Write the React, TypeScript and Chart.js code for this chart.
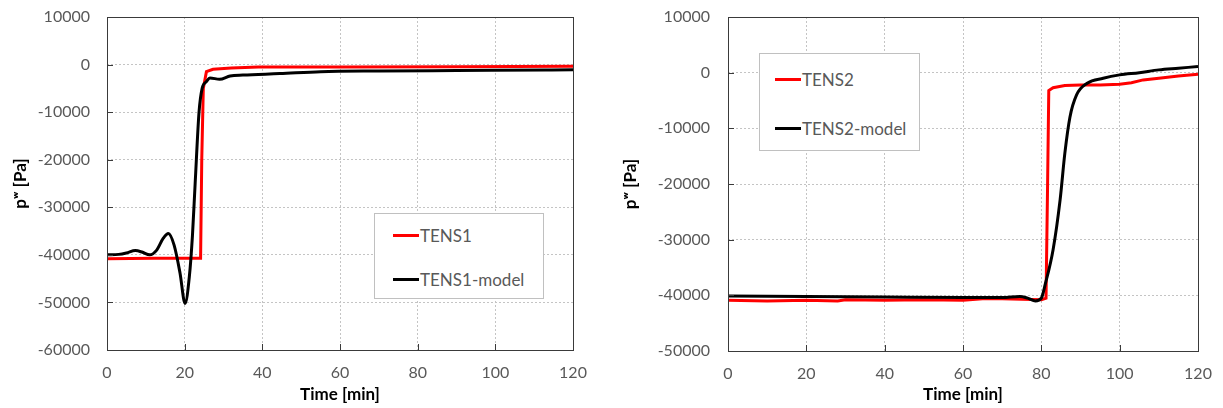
import React, { useEffect, useRef } from "react";
import { Chart, registerables } from "chart.js";

Chart.register(...registerables);

const FONT = "Lato, 'Open Sans', sans-serif";
const TICK_COLOR = "#595959";
const X_TITLE = "Time [min]";
const Y_TITLE = "p\u02B7 [Pa]";

// ---- Left panel (TENS1) ----
const tens1Time = [0, 6, 12, 18, 24.1, 24.4, 24.8, 25.6, 27.3, 32, 39, 60, 90, 120];
const tens1Values = [-40800, -40750, -40700, -40700, -40700, -20000, -5000, -1500, -1000, -700, -500, -500, -450, -350];
const tens1ModelTime = [0, 3, 5, 7.3, 9, 11, 12.8, 14.5, 15.8, 17.3, 18.8, 20.1, 21.2, 22, 22.7, 23.7, 24.5, 25.6, 26.5, 29, 31.7, 35, 44.5, 55, 70, 90, 113, 120];
const tens1ModelValues = [-40000, -39900, -39600, -39100, -39400, -40000, -39000, -36500, -35500, -38000, -43800, -50200, -44600, -36000, -25000, -10000, -5000, -3600, -2800, -3100, -2400, -2200, -1900, -1500, -1350, -1250, -1140, -1100];

// ---- Right panel (TENS2) ----
const tens2Time = [0, 10, 20, 28, 30, 40, 50, 60, 65, 70, 75, 80, 81.2, 81.6, 81.9, 83, 86, 90, 95, 100, 103, 106, 110, 115, 120];
const tens2Values = [-40900, -41000, -40900, -41000, -40800, -40900, -40800, -40900, -40600, -40600, -40700, -40800, -40500, -20000, -3200, -2700, -2300, -2200, -2200, -2100, -1800, -1300, -1000, -600, -300];
const tens2ModelTime = [0, 20, 40, 60, 70, 74.5, 76.5, 78.5, 80, 81, 83, 84.8, 86, 87.3, 89, 91.7, 95.8, 100, 105, 110, 115, 120];
const tens2ModelValues = [-40100, -40200, -40300, -40400, -40400, -40200, -40500, -41000, -40500, -38000, -31800, -22800, -14500, -8000, -4000, -1900, -1000, -400, 0, 500, 800, 1100];

const seriesColors = ["#ff0000", "#000000"];
const leftNames = ["TENS1", "TENS1-model"];
const rightNames = ["TENS2", "TENS2-model"];

const xMin = 0, xMax = 120, xStep = 20;
const leftYMin = -60000, leftYMax = 10000;
const rightYMin = -50000, rightYMax = 10000;
const yStep = 10000;

const toPoints = (t: number[], v: number[]) => t.map((x, i) => ({ x, y: v[i] }));

const framePlugin = {
  id: "frameAndInnerTicks",
  afterDatasetsDraw(chart: any) {
    const { ctx, chartArea: a, scales } = chart;
    ctx.save();
    ctx.strokeStyle = "#3a3a3a";
    ctx.lineWidth = 1;
    ctx.beginPath();
    scales.x.ticks.forEach((t: any) => {
      const px = Math.round(scales.x.getPixelForValue(t.value)) + 0.5;
      ctx.moveTo(px, a.bottom - 6);
      ctx.lineTo(px, a.bottom);
    });
    scales.y.ticks.forEach((t: any) => {
      const py = Math.round(scales.y.getPixelForValue(t.value)) + 0.5;
      ctx.moveTo(a.left, py);
      ctx.lineTo(a.left + 6, py);
    });
    ctx.stroke();
    ctx.strokeRect(Math.round(a.left) + 0.5, Math.round(a.top) + 0.5, Math.round(a.right - a.left), Math.round(a.bottom - a.top));
    ctx.restore();
  },
};

type PanelProps = {
  left: number;
  width: number;
  yMin: number;
  yMax: number;
  yAxisWidth: number;
  topPad: number;
  rightPad: number;
  xAxisHeight: number;
  yLabelPad: number;
  names: string[];
  measured: { x: number; y: number }[];
  model: { x: number; y: number }[];
  legend: { left: number; top: number; width: number; height: number; lineLeft: number; lineWidth: number; rows: number[] };
};

function Panel(p: PanelProps) {
  const ref = useRef<HTMLCanvasElement>(null);
  useEffect(() => {
    if (!ref.current) return;
    const chart = new Chart(ref.current, {
      type: "line",
      data: {
        datasets: [
          {
            label: p.names[0],
            data: p.measured,
            borderColor: seriesColors[0],
            backgroundColor: seriesColors[0],
            borderWidth: 3,
            pointRadius: 0,
            tension: 0,
            order: 2,
          },
          {
            label: p.names[1],
            data: p.model,
            borderColor: seriesColors[1],
            backgroundColor: seriesColors[1],
            borderWidth: 3,
            pointRadius: 0,
            cubicInterpolationMode: "monotone",
            order: 1,
          },
        ],
      },
      options: {
        responsive: false,
        animation: false,
        layout: { autoPadding: false, padding: { top: p.topPad, right: p.rightPad, left: 0, bottom: 0 } },
        plugins: { legend: { display: false }, tooltip: { enabled: false } },
        scales: {
          x: {
            type: "linear",
            min: xMin,
            max: xMax,
            afterFit: (s: any) => {
              s.height = p.xAxisHeight;
              s.paddingLeft = 0;
              s.paddingRight = 0;
              s.paddingTop = 0;
              s.paddingBottom = 0;
            },
            ticks: { stepSize: xStep, color: TICK_COLOR, font: { family: FONT, size: 16 }, padding: 13, maxRotation: 0, callback: (v: any) => String(v) },
            grid: { color: "#c4c4c4", drawTicks: false, lineWidth: 1 },
            border: { display: false, dash: [2, 2] },
            title: { display: true, text: X_TITLE, color: "#000", font: { family: FONT, size: 17, weight: "bold" }, padding: { top: 0, bottom: 3 } },
          },
          y: {
            type: "linear",
            min: p.yMin,
            max: p.yMax,
            afterFit: (s: any) => {
              s.width = p.yAxisWidth;
              s.paddingTop = 0;
              s.paddingBottom = 0;
              s.paddingLeft = 0;
              s.paddingRight = 0;
            },
            ticks: { stepSize: yStep, color: TICK_COLOR, font: { family: FONT, size: 16 }, padding: p.yLabelPad, callback: (v: any) => String(v) },
            grid: { color: "#c4c4c4", drawTicks: false, lineWidth: 1 },
            border: { display: false, dash: [2, 2] },
            title: { display: true, text: Y_TITLE, color: "#000", font: { family: FONT, size: 17, weight: "bold" }, padding: { top: 10, bottom: 0 } },
          },
        },
      },
      plugins: [framePlugin],
    });
    return () => chart.destroy();
  }, []);

  const lg = p.legend;
  return (
    <div style={{ position: "absolute", left: p.left, top: 0, width: p.width, height: 408 }}>
      <canvas ref={ref} width={p.width} height={408} style={{ display: "block" }} />
      <div
        style={{
          position: "absolute",
          left: lg.left,
          top: lg.top,
          width: lg.width,
          height: lg.height,
          border: "1px solid #c0c0c0",
          background: "#fff",
          boxSizing: "border-box",
        }}
      >
        {p.names.map((n, i) => (
          <div key={n} style={{ position: "absolute", left: lg.lineLeft, top: lg.rows[i] - 10, height: 20, display: "flex", alignItems: "center", whiteSpace: "nowrap" }}>
            <span style={{ display: "inline-block", width: lg.lineWidth, height: 3, background: seriesColors[i], marginRight: 1 }} />
            <span style={{ fontFamily: FONT, fontSize: 17, color: TICK_COLOR }}>{n}</span>
          </div>
        ))}
      </div>
    </div>
  );
}

export default function App() {
  return (
    <div style={{ position: "absolute", left: 0, top: 0, width: 1223, height: 408, background: "#fff" }}>
      <Panel
        left={0}
        width={610}
        yMin={leftYMin}
        yMax={leftYMax}
        yAxisWidth={107}
        topPad={17}
        rightPad={37}
        xAxisHeight={58}
        yLabelPad={17}
        names={leftNames}
        measured={toPoints(tens1Time, tens1Values)}
        model={toPoints(tens1ModelTime, tens1ModelValues)}
        legend={{ left: 374, top: 213, width: 170, height: 86, lineLeft: 18, lineWidth: 26, rows: [21, 65] }}
      />
      <Panel
        left={610}
        width={613}
        yMin={rightYMin}
        yMax={rightYMax}
        yAxisWidth={118}
        topPad={17}
        rightPad={25}
        xAxisHeight={57}
        yLabelPad={18}
        names={rightNames}
        measured={toPoints(tens2Time, tens2Values)}
        model={toPoints(tens2ModelTime, tens2ModelValues)}
        legend={{ left: 149, top: 53, width: 161, height: 98, lineLeft: 15, lineWidth: 26, rows: [25, 74] }}
      />
    </div>
  );
}
